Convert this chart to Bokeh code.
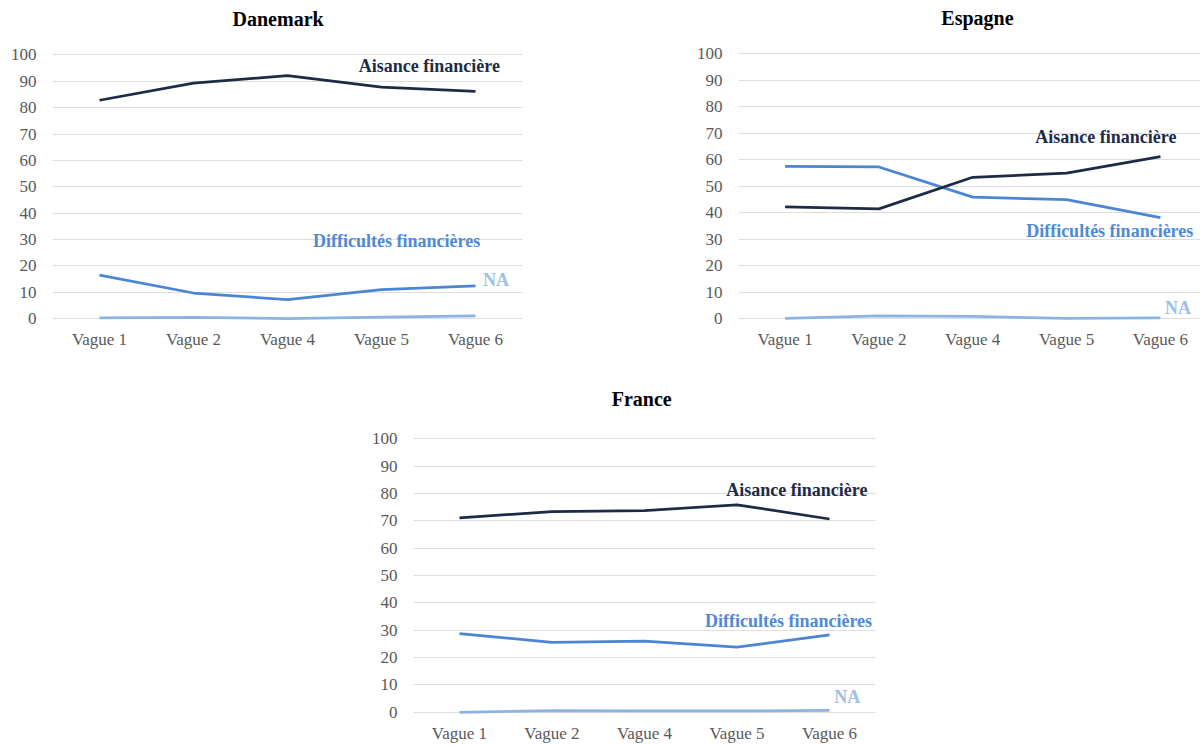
from bokeh.plotting import figure
from bokeh.models import Range1d, FixedTicker, Spacer
from bokeh.layouts import row, column
from bokeh.core.properties import value
from bokeh.embed import file_html
from bokeh.resources import INLINE

# ---------------- data ----------------
waves = ["Vague 1", "Vague 2", "Vague 4", "Vague 5", "Vague 6"]
y_ticks = [0, 10, 20, 30, 40, 50, 60, 70, 80, 90, 100]
series_names = ["Aisance financière", "Difficultés financières", "NA"]

dk_aisance = [82.8, 89.3, 92.1, 87.8, 86.2]
dk_difficultes = [16.5, 9.7, 7.2, 11.0, 12.4]
dk_na = [0.3, 0.5, 0.0, 0.6, 1.0]

es_aisance = [42.1, 41.4, 53.3, 54.9, 61.1]
es_difficultes = [57.4, 57.2, 45.8, 44.9, 38.1]
es_na = [0.1, 1.0, 0.8, 0.1, 0.3]

fr_aisance = [71.1, 73.4, 73.8, 75.9, 70.7]
fr_difficultes = [28.8, 25.6, 26.0, 23.8, 28.3]
fr_na = [0.0, 0.6, 0.5, 0.5, 0.7]

# ---------------- styles ----------------
FONT = "Liberation Serif"
LINE_COLORS = ["#1d2b47", "#4a86d4", "#8db3e2"]
TEXT_COLORS = ["#1d2b47", "#4e8ad6", "#9dbfe8"]
TICK_COLOR = "#595959"
GRID_COLOR = "#dedede"


def make_panel(title, series, x_start, x_end, y_top, frame_w, frame_h,
               mb_left, mb_right, mb_top, mb_bottom,
               title_pos, label_pos):
    idx = list(range(len(waves)))
    p = figure(output_backend="svg", toolbar_location=None,
               frame_width=frame_w, frame_height=frame_h,
               x_range=Range1d(x_start, x_end), y_range=Range1d(-3, y_top),
               min_border_left=mb_left, min_border_right=mb_right,
               min_border_top=mb_top, min_border_bottom=mb_bottom)
    p.outline_line_color = None
    p.background_fill_color = "white"
    p.border_fill_color = "white"

    p.xaxis.ticker = FixedTicker(ticks=idx)
    p.xaxis.major_label_overrides = {i: w for i, w in zip(idx, waves)}
    p.yaxis.ticker = FixedTicker(ticks=y_ticks)
    for ax in (p.xaxis, p.yaxis):
        ax.axis_line_color = None
        ax.major_tick_line_color = None
        ax.minor_tick_line_color = None
        ax.major_tick_out = 0
        ax.major_tick_in = 0
        ax.major_label_text_font = FONT
        ax.major_label_text_font_size = "17px"
        ax.major_label_text_color = TICK_COLOR
    p.xaxis.major_label_standoff = 3
    p.yaxis.major_label_standoff = 16

    p.xgrid.grid_line_color = None
    p.ygrid.grid_line_color = GRID_COLOR
    p.ygrid.grid_line_width = 1

    # title (inside the frame, above the 0-100 grid)
    p.text(x=[title_pos[0]], y=[title_pos[1]], text=[title],
           text_font=value(FONT), text_font_style="bold",
           text_font_size="20px", text_color="#000000",
           text_align="center", text_baseline="middle")

    for k in (2, 1, 0):
        p.line(idx, series[k], line_color=LINE_COLORS[k], line_width=2.75)

    for k in range(3):
        lx, ly, align = label_pos[k]
        p.text(x=[lx], y=[ly], text=[series_names[k]],
               text_font=value(FONT), text_font_style="bold",
               text_font_size="18px", text_color=TEXT_COLORS[k],
               text_align=align, text_baseline="middle")
    return p


p_dk = make_panel("Danemark", [dk_aisance, dk_difficultes, dk_na],
                  -0.5, 4.5, 119.87, 470, 324, 52, 38, 2, 34,
                  (1.90, 113.6),
                  [(4.26, 95.8, "right"), (4.05, 29.3, "right"), (4.08, 14.6, "left")])

p_es = make_panel("Espagne", [es_aisance, es_difficultes, es_na],
                  -0.496, 4.427, 119.26, 462, 324, 178, 0, 2, 34,
                  (2.05, 113.3),
                  [(4.17, 68.5, "right"), (4.35, 33.1, "right"), (4.05, 3.8, "left")])

p_fr = make_panel("France", [fr_aisance, fr_difficultes, fr_na],
                  -0.497, 4.497, 127.94, 462, 358, 50, 10, 2, 10,
                  (1.97, 114.7),
                  [(4.41, 81.3, "right"), (4.46, 33.3, "right"), (4.05, 5.5, "left")])

layout = column(row(p_dk, p_es), row(Spacer(width=363, height=10), p_fr))

open("out.html", "w").write(file_html(layout, INLINE))
